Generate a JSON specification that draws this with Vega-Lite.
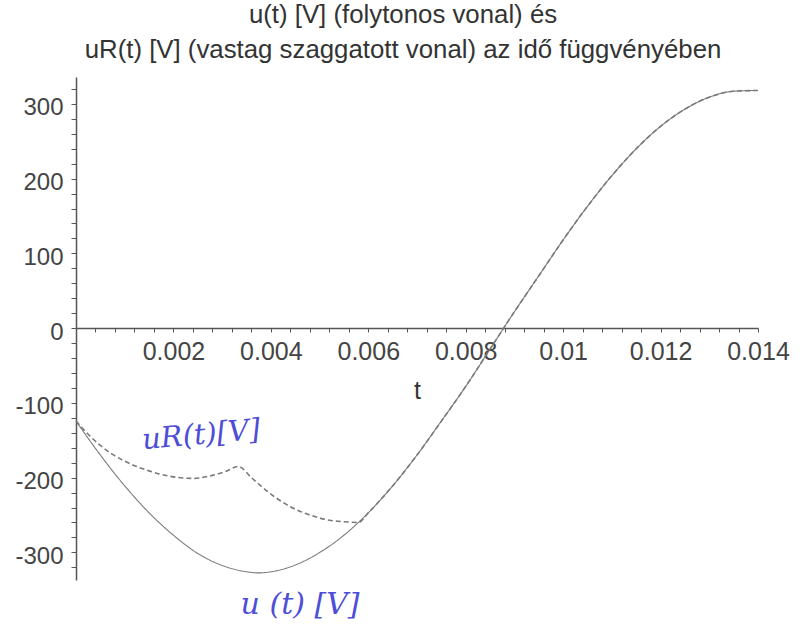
{
  "$schema": "https://vega.github.io/schema/vega-lite/v6.json",
  "width": 682,
  "height": 503,
  "autosize": {"type": "none"},
  "padding": {"left": 76, "top": 77, "right": 45, "bottom": 61},
  "background": "white",
  "config": {"view": {"stroke": null}, "font": "Liberation Sans"},
  "title": {
    "text": ["u(t) [V] (folytonos vonal) és", "uR(t) [V] (vastag szaggatott vonal) az idő függvényében"],
    "fontSize": 25.8,
    "fontWeight": "normal",
    "font": "Liberation Sans",
    "color": "#333333",
    "lineHeight": 35,
    "anchor": "middle",
    "offset": 13,
    "dx": -14
  },
  "datasets": {
    "curves": [
      {"s": "u", "t": 0, "v": -124.4},
      {"s": "u", "t": 0.0005, "v": -169.8},
      {"s": "u", "t": 0.001, "v": -211.1},
      {"s": "u", "t": 0.0015, "v": -247.1},
      {"s": "u", "t": 0.002, "v": -277.1},
      {"s": "u", "t": 0.0025, "v": -301.5},
      {"s": "u", "t": 0.003, "v": -317.5},
      {"s": "u", "t": 0.0035, "v": -326.0},
      {"s": "u", "t": 0.00375, "v": -327.5},
      {"s": "u", "t": 0.004, "v": -326.0},
      {"s": "u", "t": 0.0045, "v": -317.0},
      {"s": "u", "t": 0.005, "v": -300.3},
      {"s": "u", "t": 0.0055, "v": -277.1},
      {"s": "u", "t": 0.006, "v": -247.1},
      {"s": "u", "t": 0.0065, "v": -211.1},
      {"s": "u", "t": 0.007, "v": -169.8},
      {"s": "u", "t": 0.0075, "v": -124.4},
      {"s": "u", "t": 0.008, "v": -78},
      {"s": "u", "t": 0.0085, "v": -28},
      {"s": "u", "t": 0.009, "v": 22},
      {"s": "u", "t": 0.0095, "v": 70},
      {"s": "u", "t": 0.01, "v": 118},
      {"s": "u", "t": 0.0105, "v": 163},
      {"s": "u", "t": 0.011, "v": 204},
      {"s": "u", "t": 0.0115, "v": 240},
      {"s": "u", "t": 0.012, "v": 270},
      {"s": "u", "t": 0.0125, "v": 293},
      {"s": "u", "t": 0.013, "v": 309},
      {"s": "u", "t": 0.0135, "v": 317},
      {"s": "u", "t": 0.014, "v": 318},
      {"s": "uR", "t": 0, "v": -124},
      {"s": "uR", "t": 0.00025, "v": -142},
      {"s": "uR", "t": 0.0005, "v": -157},
      {"s": "uR", "t": 0.00075, "v": -169},
      {"s": "uR", "t": 0.001, "v": -178},
      {"s": "uR", "t": 0.0015, "v": -191},
      {"s": "uR", "t": 0.002, "v": -199},
      {"s": "uR", "t": 0.0024, "v": -201},
      {"s": "uR", "t": 0.0028, "v": -197},
      {"s": "uR", "t": 0.0031, "v": -191},
      {"s": "uR", "t": 0.00333, "v": -185},
      {"s": "uR", "t": 0.0036, "v": -200},
      {"s": "uR", "t": 0.004, "v": -222},
      {"s": "uR", "t": 0.0044, "v": -239},
      {"s": "uR", "t": 0.0048, "v": -250},
      {"s": "uR", "t": 0.0052, "v": -257},
      {"s": "uR", "t": 0.0055, "v": -259},
      {"s": "uR", "t": 0.0058, "v": -260},
      {"s": "uR", "t": 0.006, "v": -247.1},
      {"s": "uR", "t": 0.0065, "v": -211.1},
      {"s": "uR", "t": 0.007, "v": -169.8},
      {"s": "uR", "t": 0.0075, "v": -124.4},
      {"s": "uR", "t": 0.008, "v": -78},
      {"s": "uR", "t": 0.0085, "v": -28},
      {"s": "uR", "t": 0.009, "v": 22},
      {"s": "uR", "t": 0.0095, "v": 70},
      {"s": "uR", "t": 0.01, "v": 118},
      {"s": "uR", "t": 0.0105, "v": 163},
      {"s": "uR", "t": 0.011, "v": 204},
      {"s": "uR", "t": 0.0115, "v": 240},
      {"s": "uR", "t": 0.012, "v": 270},
      {"s": "uR", "t": 0.0125, "v": 293},
      {"s": "uR", "t": 0.013, "v": 309},
      {"s": "uR", "t": 0.0135, "v": 317},
      {"s": "uR", "t": 0.014, "v": 318}
    ],
    "notes": [
      {"k": "uR", "t": 0.00257, "v": -143, "label": "uR(t)[V]"},
      {"k": "u", "t": 0.0046, "v": -371, "label": "u (t) [V]"}
    ]
  },
  "layer": [
    {
      "data": {"name": "curves"},
      "mark": {"type": "line", "interpolate": "monotone", "color": "#7a7a7a"},
      "encoding": {
        "x": {
          "field": "t",
          "type": "quantitative",
          "scale": {"domain": [0, 0.014], "nice": false, "zero": false},
          "axis": {
            "orient": "bottom",
            "offset": -252,
            "tickCount": 200,
            "values": [0.0004, 0.0008, 0.0012, 0.0016, 0.002, 0.0024, 0.0028, 0.0032, 0.0036, 0.004, 0.0044, 0.0048, 0.0052, 0.0056, 0.006, 0.0064, 0.0068, 0.0072, 0.0076, 0.008, 0.0084, 0.0088, 0.0092, 0.0096, 0.01, 0.0104, 0.0108, 0.0112, 0.0116, 0.012, 0.0124, 0.0128, 0.0132, 0.0136, 0.014],
            "labelExpr": "round(datum.value * 10000) % 20 == 0 ? format(datum.value, '~g') : ''",
            "labelOverlap": false,
            "labelFlush": false,
            "labelFont": "Liberation Sans",
            "labelFontSize": 25,
            "labelColor": "#444444",
            "labelPadding": 7,
            "tickSize": 4,
            "tickColor": "#555555",
            "domainColor": "#555555",
            "domainWidth": 1.5,
            "grid": false,
            "title": "t",
            "titleFont": "Liberation Sans",
            "titleFontSize": 25,
            "titleFontWeight": "normal",
            "titleColor": "#333333",
            "titlePadding": 14
          }
        },
        "y": {
          "field": "v",
          "type": "quantitative",
          "scale": {"domain": [-337, 336], "nice": false, "zero": false},
          "axis": {
            "tickCount": 200,
            "values": [-320, -300, -280, -260, -240, -220, -200, -180, -160, -140, -120, -100, -80, -60, -40, -20, 0, 20, 40, 60, 80, 100, 120, 140, 160, 180, 200, 220, 240, 260, 280, 300, 320],
            "labelExpr": "datum.value % 100 == 0 ? '' + datum.value : ''",
            "labelOverlap": false,
            "labelFlush": false,
            "labelFont": "Liberation Sans",
            "labelFontSize": 24,
            "labelColor": "#444444",
            "labelPadding": 8,
            "labelOffset": 4,
            "tickSize": 5,
            "tickColor": "#555555",
            "domainColor": "#555555",
            "domainWidth": 1.5,
            "grid": false,
            "title": null
          }
        },
        "strokeDash": {"field": "s", "type": "nominal", "scale": {"domain": ["u", "uR"], "range": [[1, 0], [5, 3]]}, "legend": null},
        "strokeWidth": {"field": "s", "type": "nominal", "scale": {"domain": ["u", "uR"], "range": [1.1, 1.6]}, "legend": null}
      }
    },
    {
      "data": {"name": "notes"},
      "transform": [{"filter": "datum.k == 'uR'"}],
      "mark": {"type": "text", "font": "DejaVu Serif", "fontStyle": "italic", "fontSize": 29, "color": "#4d4dd6", "angle": -5},
      "encoding": {
        "x": {"field": "t", "type": "quantitative"},
        "y": {"field": "v", "type": "quantitative"},
        "text": {"field": "label"}
      }
    },
    {
      "data": {"name": "notes"},
      "transform": [{"filter": "datum.k == 'u'"}],
      "mark": {"type": "text", "font": "DejaVu Serif", "fontStyle": "italic", "fontSize": 30, "color": "#4d4dd6"},
      "encoding": {
        "x": {"field": "t", "type": "quantitative"},
        "y": {"field": "v", "type": "quantitative"},
        "text": {"field": "label"}
      }
    }
  ]
}
